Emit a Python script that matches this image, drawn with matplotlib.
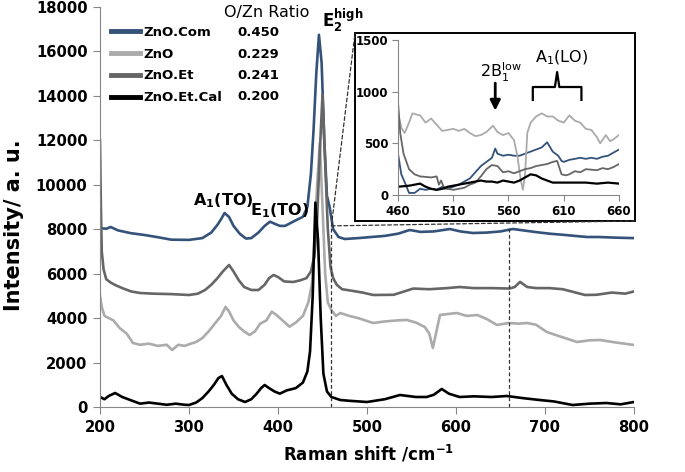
"""
Raman spectra of ZnO samples with an inset zoom of the 460-660 cm-1 region.
"""
import matplotlib
matplotlib.use("Agg")
import matplotlib.pyplot as plt
from matplotlib.patches import Rectangle, ConnectionPatch

plt.rcParams["font.family"] = "DejaVu Sans"
plt.rcParams["mathtext.fontset"] = "dejavusans"

# === Data ===
SERIES = ["ZnO.Com", "ZnO", "ZnO.Et", "ZnO.Et.Cal"]
RATIOS = ["0.450", "0.229", "0.241", "0.200"]
COLORS = ["#34527a", "#ababab", "#666666", "#000000"]

com_x = [200, 207, 212, 220, 235, 250, 265, 280, 300, 315, 325, 332, 336, 340, 345, 350,
         357, 364, 370, 378, 385, 391, 396, 402, 408, 417, 428, 433, 437, 440, 443, 446,
         449, 452, 455, 458, 462, 468, 475, 490, 505, 520, 535, 548, 560, 575, 593, 605,
         619, 635, 650, 658, 664, 675, 690, 705, 720, 747, 760, 780, 800]
com_y = [8050, 8020, 8100, 7950, 7820, 7740, 7640, 7530, 7520, 7600, 7850, 8200, 8450, 8730,
         8550, 8150, 7800, 7580, 7600, 7850, 8150, 8340, 8250, 8150, 8150, 8340, 8560, 9000,
         10500, 12500, 15000, 16750, 15500, 12000, 9500, 9000, 8000, 7650, 7560, 7600, 7650,
         7700, 7800, 7965, 7880, 7900, 8010, 7900, 7830, 7850, 7900, 7965, 8010, 7950, 7870,
         7800, 7750, 7650, 7650, 7620, 7600]

zno_x = [200, 202, 205, 210, 215, 222, 230, 237, 245, 255, 265, 275, 281, 288, 295, 302,
         308, 315, 322, 330, 336, 341, 345, 350, 356, 362, 368, 374, 380, 387, 393, 398,
         405, 413, 420, 428, 434, 438, 441, 444, 447, 450, 453, 456, 460, 465, 470, 480,
         490, 507, 520, 535, 545, 555, 565, 570, 574, 578, 582, 590, 601, 612, 624, 635,
         646, 659, 670, 680, 690, 702, 715, 736, 750, 762, 780, 800]
zno_y = [5000, 4500, 4100, 4000, 3900, 3555, 3300, 2880, 2800, 2850, 2750, 2800, 2565, 2800,
         2750, 2850, 2925, 3100, 3400, 3800, 4100, 4500, 4300, 3900, 3600, 3400, 3240, 3400,
         3750, 3900, 4290, 4150, 3900, 3615, 3800, 4100, 4700, 5500, 7500, 10000, 11880, 9000,
         6000, 4700, 4365, 4100, 4230, 4100, 4000, 3780, 3850, 3900, 3915, 3800, 3600, 3300,
         2655, 3400, 4140, 4180, 4230, 4100, 4140, 3950, 3690, 3780, 3750, 3780, 3700, 3375,
         3200, 2925, 3000, 3015, 2900, 2790]

et_x = [200, 201, 202, 204, 207, 212, 217, 225, 235, 245, 260, 280, 300, 310, 318, 325,
        332, 338, 345, 350, 356, 362, 370, 378, 385, 390, 395, 400, 407, 417, 425, 432,
        437, 441, 444, 447, 450, 453, 456, 459, 462, 466, 472, 480, 495, 507, 530, 552,
        570, 590, 604, 620, 640, 660, 666, 672, 680, 690, 705, 720, 745, 758, 775, 790, 800]
et_y = [12000, 9000, 7000, 6200, 5750, 5600, 5490, 5350, 5200, 5130, 5100, 5080, 5040, 5100,
        5265, 5500, 5800, 6100, 6390, 6100, 5700, 5400, 5265, 5265, 5500, 5800, 5940, 5850,
        5650, 5625, 5700, 5800, 6100, 6800, 8500, 11500, 14040, 11000, 8000, 6300, 5800, 5500,
        5300, 5250, 5150, 5040, 5050, 5330, 5300, 5350, 5400, 5350, 5350, 5330, 5400, 5630,
        5400, 5350, 5350, 5300, 5040, 5050, 5150, 5100, 5200]

cal_x = [200, 205, 210, 217, 225, 235, 245, 255, 265, 275, 285, 295, 300, 308, 315, 322,
         328, 333, 337, 342, 348, 355, 363, 370, 376, 381, 385, 390, 396, 402, 410, 420,
         428, 433, 436, 439, 442, 445, 448, 451, 455, 460, 470, 480, 500, 520, 537, 555,
         567, 575, 584, 592, 604, 620, 640, 657, 675, 694, 710, 731, 750, 769, 785, 800]
cal_y = [450, 350, 500, 630, 450, 300, 150, 200, 150, 100, 150, 100, 90, 200, 400, 700,
         1000, 1300, 1395, 1000, 600, 350, 225, 350, 600, 850, 990, 850, 700, 600, 750, 850,
         1100, 1600, 2500, 5000, 9200, 7500, 4000, 1500, 700, 450, 315, 280, 225, 350, 540,
         450, 450, 550, 810, 600, 450, 480, 450, 495, 400, 315, 250, 90, 150, 180, 120, 225]

# inset (460-660 cm-1, baseline-subtracted)
ins_com_x = [460, 463, 467, 470, 475, 480, 485, 490, 495, 500, 505, 510, 515, 520, 525, 530,
             535, 540, 545, 548, 550, 555, 560, 565, 570, 575, 580, 585, 590, 595, 600, 605,
             608, 610, 615, 620, 625, 630, 635, 640, 645, 650, 655, 660]
ins_com_y = [400, 200, 100, 20, 20, 60, 50, 60, 50, 80, 60, 80, 100, 130, 160, 220, 280, 320,
             360, 450, 400, 380, 390, 380, 380, 400, 420, 440, 460, 510, 420, 380, 330, 320,
             340, 350, 360, 350, 360, 350, 370, 380, 410, 440]

ins_zno_x = [460, 463, 466, 470, 473, 480, 485, 490, 495, 500, 505, 510, 515, 520, 525, 530,
             535, 540, 546, 550, 555, 560, 565, 568, 571, 573, 575, 577, 580, 585, 590, 595,
             600, 605, 610, 615, 620, 625, 630, 635, 640, 643, 648, 652, 655, 660]
ins_zno_y = [800, 650, 600, 700, 790, 770, 700, 740, 680, 620, 630, 640, 620, 640, 600, 570,
             580, 610, 670, 610, 580, 600, 530, 380, 150, 50, 200, 600, 700, 760, 790, 760,
             760, 720, 700, 770, 720, 700, 640, 630, 560, 500, 580, 520, 540, 580]

ins_et_x = [460, 462, 465, 470, 475, 480, 490, 495, 497, 499, 502, 505, 510, 515, 520, 525,
            530, 535, 540, 545, 550, 555, 560, 565, 570, 575, 580, 585, 590, 595, 600, 604,
            608, 612, 615, 620, 625, 630, 640, 645, 650, 655, 660]
ins_et_y = [900, 600, 400, 250, 200, 180, 170, 180, 100, 140, 60, 60, 50, 60, 70, 100, 120,
            180, 250, 290, 280, 220, 230, 210, 230, 250, 260, 280, 290, 300, 320, 330, 200,
            190, 200, 230, 220, 250, 240, 260, 250, 270, 300]

ins_cal_x = [460, 470, 475, 480, 485, 490, 495, 500, 505, 510, 515, 520, 525, 530, 535, 540,
             545, 550, 555, 560, 565, 570, 575, 580, 585, 590, 595, 600, 610, 620, 630, 640,
             650, 660]
ins_cal_y = [80, 90, 100, 110, 80, 60, 50, 60, 80, 90, 100, 110, 120, 130, 140, 130, 130,
             120, 140, 130, 120, 140, 170, 200, 190, 160, 140, 120, 120, 120, 120, 110, 120,
             110]

MAIN_DATA = [(com_x, com_y), (zno_x, zno_y), (et_x, et_y), (cal_x, cal_y)]
INSET_DATA = [(ins_com_x, ins_com_y), (ins_zno_x, ins_zno_y),
              (ins_et_x, ins_et_y), (ins_cal_x, ins_cal_y)]
INSET_LW = [1.3, 1.3, 1.3, 1.6]

ZOOM_X = (460, 660)
ZOOM_TOP = 8150

W, H = 685, 472
AXIS_GRAY = "#868686"


def fx(px):
    return px / W


def fy(py):
    return 1 - py / H


fig = plt.figure(figsize=(6.85, 4.72), dpi=100)

# --- main axes ---
ax = fig.add_axes([fx(100), fy(407), fx(634) - fx(100), fy(7) - fy(407)])
lines = []
for (x, y), name, c in zip(MAIN_DATA, SERIES, COLORS):
    (ln,) = ax.plot(x, y, color=c, lw=1.9, label=name, solid_joinstyle="round")
    lines.append(ln)

ax.set_xlim(200, 800)
ax.set_ylim(0, 18000)
ax.set_xticks(range(200, 801, 100))
ax.set_yticks(range(0, 18001, 2000))
for s in ("top", "right"):
    ax.spines[s].set_visible(False)
for s in ("left", "bottom"):
    ax.spines[s].set_color(AXIS_GRAY)
ax.tick_params(colors=AXIS_GRAY, labelcolor="black", length=5, direction="out",
               labelsize=10.6, pad=4)
for lab in ax.get_xticklabels() + ax.get_yticklabels():
    lab.set_fontweight("bold")

fig.text(fx(369), fy(454), r"Raman shift /cm$^{\mathbf{-1}}$", ha="center", va="center",
         fontsize=12, fontweight="bold")
fig.text(fx(14), fy(225), "Intensity/ a. u.", ha="center", va="center", rotation=90,
         fontsize=15, fontweight="bold")

# peak labels
ax.text(304, 9090, r"$\mathbf{A_1(TO)}$", fontsize=11.5, va="baseline")
ax.text(368, 8640, r"$\mathbf{E_1(TO)}$", fontsize=11.5, va="baseline")
ax.text(449, 17050, r"$\mathbf{E_2^{high}}$", fontsize=12, va="baseline")

# legend + ratio column
fig.text(fx(224), fy(12), "O/Zn Ratio", fontsize=11.5, va="center")
leg = fig.legend(handles=lines, loc="upper left", bbox_to_anchor=(fx(111), fy(26)),
                 frameon=False, fontsize=9.5, handlelength=2.2, handletextpad=0.25,
                 labelspacing=0.66, borderpad=0, borderaxespad=0)
for t in leg.get_texts():
    t.set_fontweight("bold")
for h in leg.legend_handles:
    h.set_linewidth(3.5)
for i, r in enumerate(RATIOS):
    fig.text(fx(237), fy(33 + i * 21.3), r, fontsize=9.5, fontweight="bold", va="center")

# zoom-region guide lines
dash = dict(color="#333333", lw=0.9, linestyle=(0, (3, 2)), clip_on=False)
ax.plot([ZOOM_X[0], ZOOM_X[0]], [0, ZOOM_TOP], **dash)
ax.plot([ZOOM_X[1], ZOOM_X[1]], [0, ZOOM_TOP], **dash)

# inset frame (chart area of the embedded plot)
box_l, box_t, box_r, box_b = 355, 33, 635, 221
frame = Rectangle((fx(box_l), fy(box_b)), fx(box_r) - fx(box_l), fy(box_t) - fy(box_b),
                  transform=fig.transFigure, facecolor="white", edgecolor="black",
                  lw=1.4, zorder=0.5)
fig.add_artist(frame)
for corner in [(fx(box_l), fy(box_t)), (fx(box_r), fy(box_b))]:
    con = ConnectionPatch(xyA=(ZOOM_X[0], ZOOM_TOP), coordsA="data", axesA=ax,
                          xyB=corner, coordsB="figure fraction",
                          color="#333333", lw=0.9, linestyle=(0, (3, 2)))
    fig.add_artist(con)

# --- inset ---
ins = fig.add_axes([fx(398), fy(195), fx(619) - fx(398), fy(40) - fy(195)])
ins.set_zorder(1)
ins.patch.set_alpha(0)
for (x, y), c, lw in zip(INSET_DATA, COLORS, INSET_LW):
    ins.plot(x, y, color=c, lw=lw)
ins.set_xlim(*ZOOM_X)
ins.set_ylim(0, 1500)
ins.set_xticks(range(460, 661, 50))
ins.set_yticks([0, 500, 1000, 1500])
for s in ("top", "right"):
    ins.spines[s].set_visible(False)
for s in ("left", "bottom"):
    ins.spines[s].set_color(AXIS_GRAY)
ins.tick_params(colors=AXIS_GRAY, labelcolor="black", length=4, direction="out",
                labelsize=8.5, pad=3)
for lab in ins.get_xticklabels() + ins.get_yticklabels():
    lab.set_fontweight("bold")

ins.text(534, 1133, r"$\mathregular{2B_1^{low}}$", fontsize=11.5, va="baseline")
ins.text(584, 1287, r"$\mathregular{A_1(LO)}$", fontsize=11.5, va="baseline")
ins.annotate("", xy=(548, 790), xytext=(548, 1110),
             arrowprops=dict(arrowstyle="-|>,head_width=0.3,head_length=0.6",
                             color="black", lw=2))
brace_x = [582, 582, 602, 604, 606, 626, 626]
brace_y = [920, 1045, 1045, 1190, 1045, 1045, 920]
ins.plot(brace_x, brace_y, color="black", lw=1.6, clip_on=False)

fig.savefig("out.png", dpi=100)
